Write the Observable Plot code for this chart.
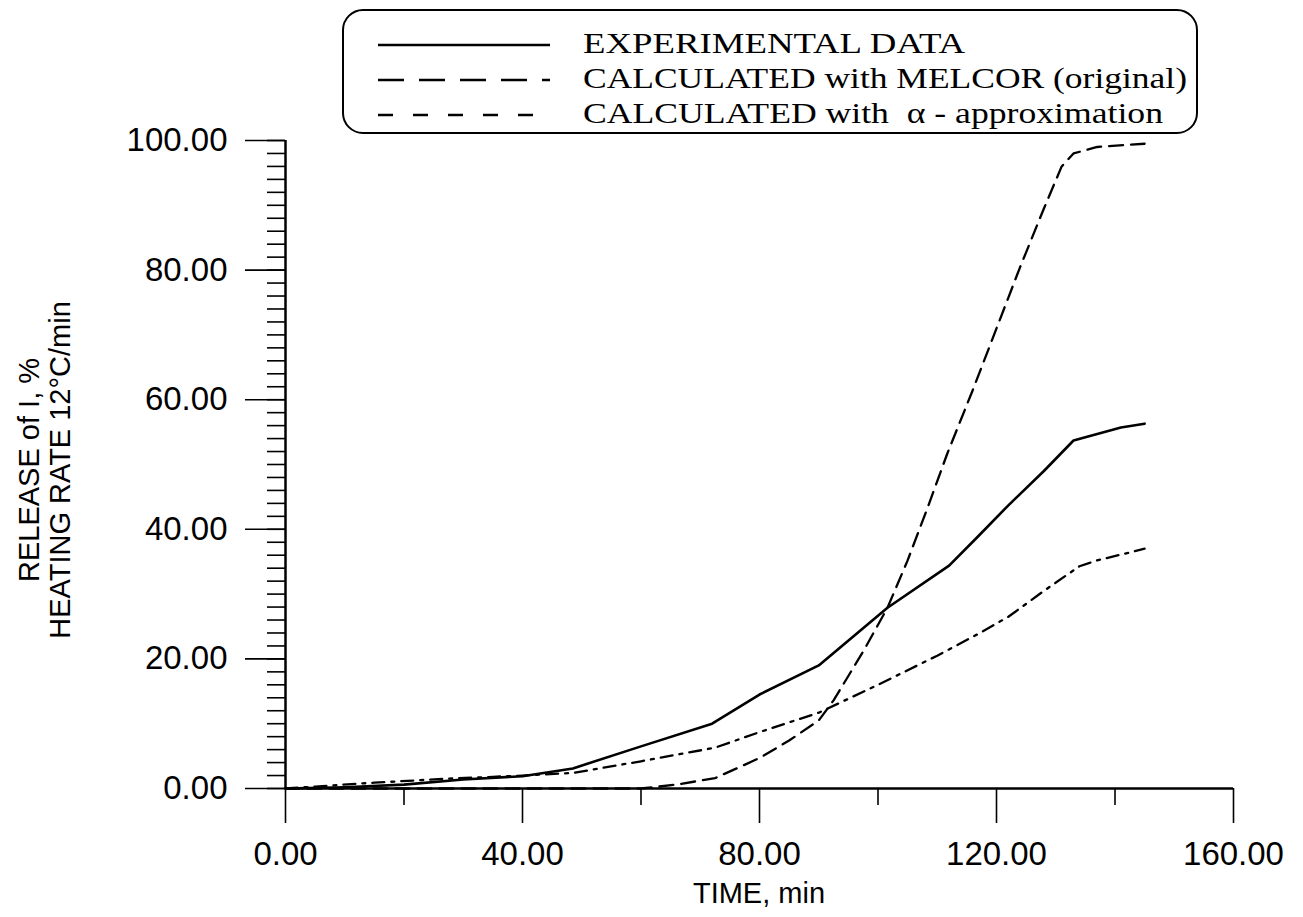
<!DOCTYPE html>
<html><head><meta charset="utf-8">
<script src="https://cdn.jsdelivr.net/npm/d3@7"></script>
<script src="https://cdn.jsdelivr.net/npm/@observablehq/plot@0.6"></script>
<style>
body{margin:0;background:#fff;}
#chart{position:relative;width:1303px;height:917px;}
</style></head><body><div id="chart"></div>
<script>
// Experimental data (solid)
const expTime    = [0, 10, 20, 30, 40, 48.5, 60, 72, 80, 90, 101.6, 112, 117, 122, 128, 133, 137, 141, 145];
const expRelease = [0, 0.2, 0.6, 1.4, 1.9, 3.1, 6.5, 10.0, 14.5, 19.0, 27.9, 34.4, 39.0, 43.7, 49.0, 53.7, 54.7, 55.7, 56.3];
// Calculated with MELCOR (original) (dashed)
const melTime    = [0, 60, 66, 72.5, 80, 85, 90, 92.5, 97.6, 101.6, 105, 108.4, 111.7, 116, 120, 124, 128, 131, 133, 137, 145];
const melRelease = [0, 0, 0.6, 1.6, 4.7, 7.4, 10.5, 13.6, 21.3, 27.9, 35.2, 43.4, 51.7, 61.5, 71.0, 80.5, 89.5, 96.0, 98.0, 99.0, 99.5];
// Calculated with alpha-approximation (dash-dot)
const alpTime    = [0, 5, 15, 27, 35, 40, 48.5, 60, 72.5, 80, 90, 100, 110, 117, 122, 128, 134, 137, 145];
const alpRelease = [0, 0.3, 0.9, 1.5, 1.8, 2.0, 2.4, 4.2, 6.3, 8.7, 11.7, 16.0, 20.5, 23.9, 26.5, 30.5, 34.3, 35.2, 37.0];

const xMajor = [0, 40, 80, 120, 160];
const xMinor = [20, 60, 100, 140];
const yMajor = [0, 20, 40, 60, 80, 100];
const yMinor = d3.range(0, 101, 2);

const legendLabels = ["EXPERIMENTAL DATA", "CALCULATED with MELCOR (original)", "CALCULATED with  \u03b1 - approximation"];
const xTitle = "TIME, min";
const yTitle = ["RELEASE of I, %", "HEATING RATE 12\u00b0C/min"];

const toRows = (ts, vs) => ts.map((t, i) => ({t, v: vs[i]}));
const expRows = toRows(expTime, expRelease);
const melRows = toRows(melTime, melRelease);
const alpRows = toRows(alpTime, alpRelease);

const fmt = d => d.toFixed(2);
const sans = "'Liberation Sans', Arial, sans-serif";

const plot = Plot.plot({
  width: 1303, height: 917,
  marginLeft: 285, marginRight: 70, marginTop: 140, marginBottom: 129,
  x: {domain: [0, 160]},
  y: {domain: [0, 100]},
  style: {fontFamily: sans, fontSize: "33px", color: "#000", background: "#fff"},
  marks: [
    Plot.axisY({ticks: yMinor, tickSize: 18, tickFormat: () => "", label: null, strokeWidth: 1.6}),
    Plot.axisY({ticks: yMajor, tickSize: 40, tickPadding: 18, tickFormat: fmt, label: null, strokeWidth: 1.6, fontSize: 33}),
    Plot.axisX({ticks: xMinor, tickSize: 17, tickFormat: () => "", label: null, strokeWidth: 1.6}),
    Plot.axisX({ticks: xMajor, tickSize: 35, tickPadding: 18, tickFormat: fmt, label: null, strokeWidth: 1.6, fontSize: 33}),
    Plot.ruleY([0], {stroke: "#000", strokeWidth: 2.5}),
    Plot.ruleX([0], {stroke: "#000", strokeWidth: 2.5}),
    Plot.line(alpRows, {x: "t", y: "v", stroke: "#000", strokeWidth: 2.3, strokeDasharray: "12,7,3,7"}),
    Plot.line(melRows, {x: "t", y: "v", stroke: "#000", strokeWidth: 2.3, strokeDasharray: "14,8"}),
    Plot.line(expRows, {x: "t", y: "v", stroke: "#000", strokeWidth: 2.6})
  ]
});
document.getElementById("chart").appendChild(plot);

const svg = d3.select(plot);
// axis titles
svg.append("text").attr("x", 759).attr("y", 903).attr("text-anchor", "middle")
  .attr("font-family", sans).attr("font-size", 29).attr("fill", "#000").text(xTitle);
const yt = svg.append("text").attr("transform", "translate(45,470) rotate(-90)")
  .attr("text-anchor", "middle").attr("font-family", sans).attr("font-size", 29).attr("fill", "#000");
yt.append("tspan").attr("x", 0).attr("y", -6).text(yTitle[0]);
yt.append("tspan").attr("x", 0).attr("y", 25).text(yTitle[1]);

// legend
const lg = svg.append("g");
lg.append("rect").attr("x", 343).attr("y", 10).attr("width", 854).attr("height", 123)
  .attr("rx", 20).attr("fill", "#fff").attr("stroke", "#000").attr("stroke-width", 2);
const dashes = [null, "26,15", "15,20"];
const rowY = [44, 79, 114];
const textLen = [382, 604, 580];
legendLabels.forEach((lab, i) => {
  lg.append("line").attr("x1", 378).attr("x2", 550).attr("y1", rowY[i] + 1).attr("y2", rowY[i] + 1)
    .attr("stroke", "#000").attr("stroke-width", 2.5).attr("stroke-dasharray", dashes[i]);
  lg.append("text").attr("x", 583).attr("y", rowY[i] + 9).attr("text-anchor", "start")
    .attr("font-family", "'Liberation Serif', 'Times New Roman', serif").attr("font-size", 30)
    .attr("textLength", textLen[i]).attr("lengthAdjust", "spacingAndGlyphs")
    .attr("fill", "#000").text(lab);
});
</script>
</body></html>
